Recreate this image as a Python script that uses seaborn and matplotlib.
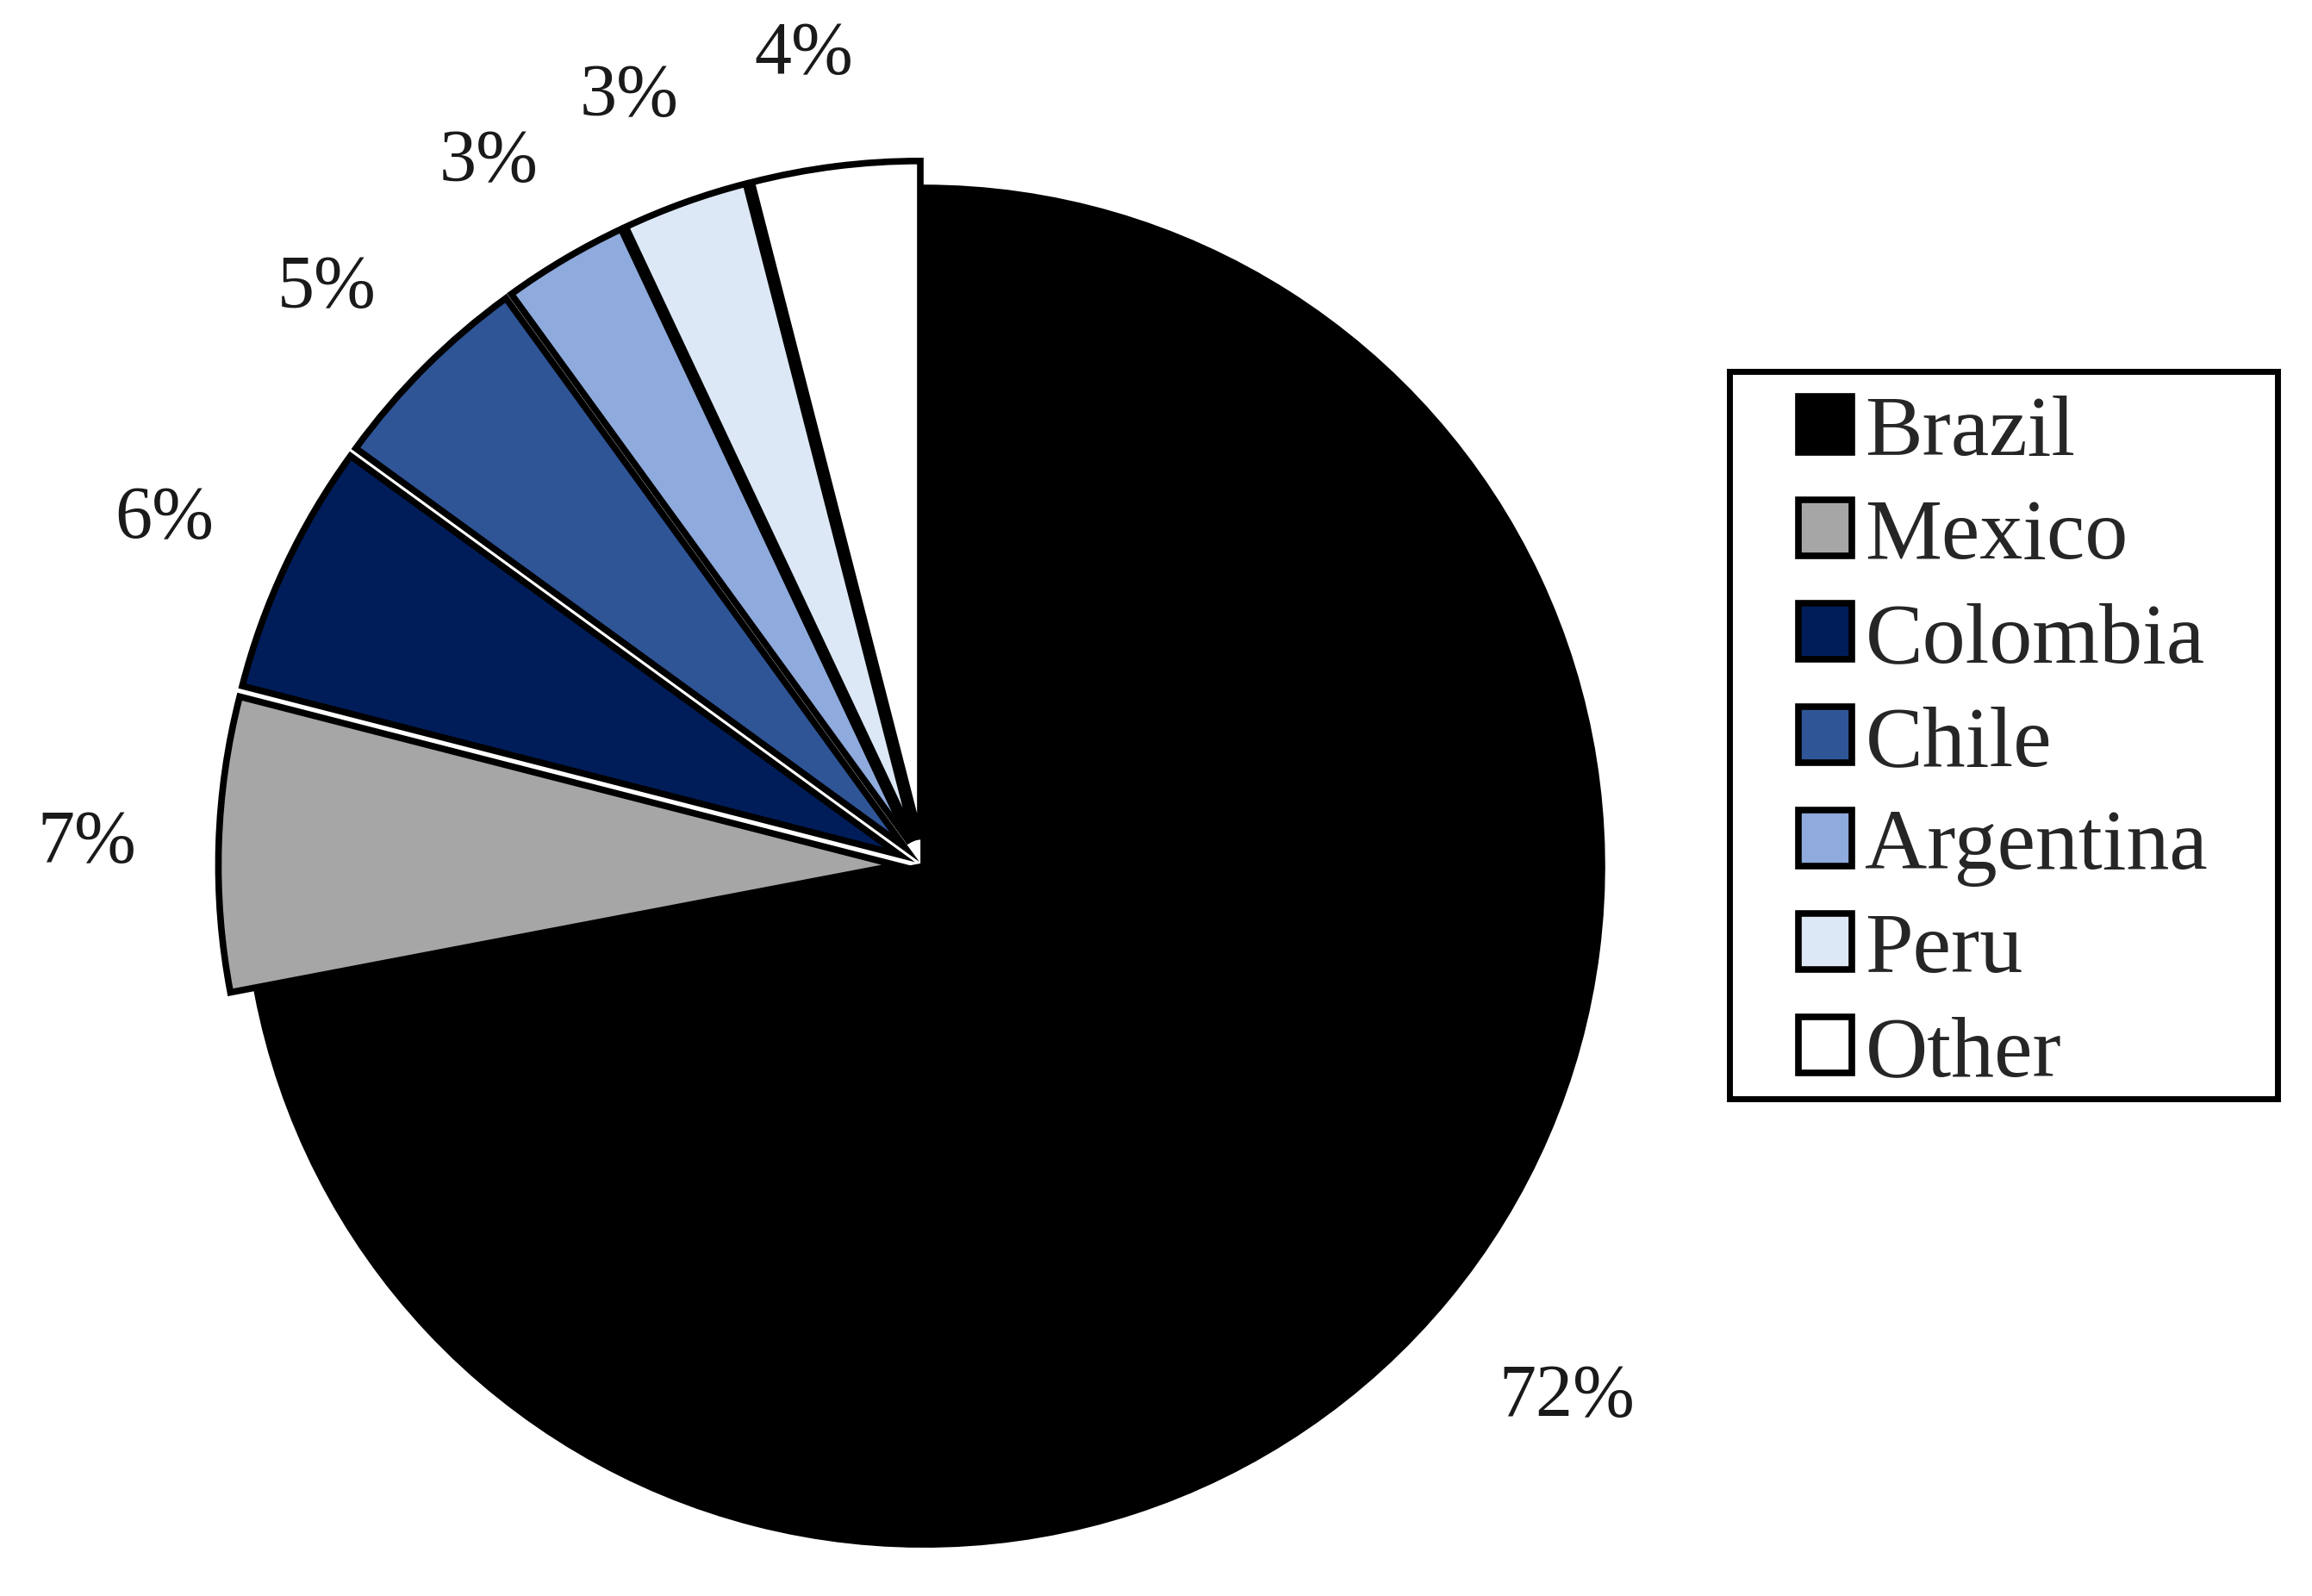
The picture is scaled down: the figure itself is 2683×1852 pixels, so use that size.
import seaborn as sns
import matplotlib.pyplot as plt
from matplotlib.patches import Rectangle

countries = ['Brazil', 'Mexico', 'Colombia', 'Chile', 'Argentina', 'Peru', 'Other']
shares = [72, 7, 6, 5, 3, 3, 4]
colors = ['#000000', '#A6A6A6', '#001D5A', '#2F5597', '#8FAADC', '#DCE8F5', '#FFFFFF']
explode = [0, 0.04, 0.04, 0.04, 0.04, 0.04, 0.04]

sns.set_theme(style="white")
plt.rcParams['font.family'] = ['Liberation Serif', 'DejaVu Serif']

fig = plt.figure(figsize=(26.83, 18.52), dpi=100)
ax = fig.add_axes([0, 0, 1, 1])

wedges, texts, autotexts = ax.pie(
    shares, colors=colors, explode=explode, startangle=90, counterclock=False,
    autopct='%d%%', pctdistance=1.17, radius=1,
    wedgeprops=dict(edgecolor='black', linewidth=5.5),
    textprops=dict(fontsize=62, color='#1a1a1a'))

# the big slice label sits a little further out, the small ones a bit more to the left
x, y = autotexts[0].get_position()
autotexts[0].set_position((x * 1.23 / 1.17, y * 1.23 / 1.17))
for t in autotexts[1:]:
    x, y = t.get_position()
    t.set_position((x - 0.025, y - 0.005))

# put the pie where it sits in the original picture
ax.set_xlim(-1.362, 2.047)
ax.set_ylim(-1.076, 1.277)
ax.set_aspect('equal')
ax.axis('off')

# legend frame drawn separately so the side padding can be wider than the top one
box = (0.748, 0.3116, 0.237, 0.4557)
fig.patches.append(Rectangle(box[:2], box[2], box[3], transform=fig.transFigure,
                             fill=False, edgecolor='black', linewidth=5))
leg = ax.legend(wedges, countries, loc='center',
                bbox_to_anchor=(box[0] + box[2] / 2, box[1] + box[3] / 2 - 0.006),
                bbox_transform=fig.transFigure, borderaxespad=0, fontsize=72,
                frameon=False, handlelength=0.62, handleheight=0.62,
                handletextpad=0.15, labelspacing=0.3, borderpad=0)

fig.savefig('out.png', dpi=100)
